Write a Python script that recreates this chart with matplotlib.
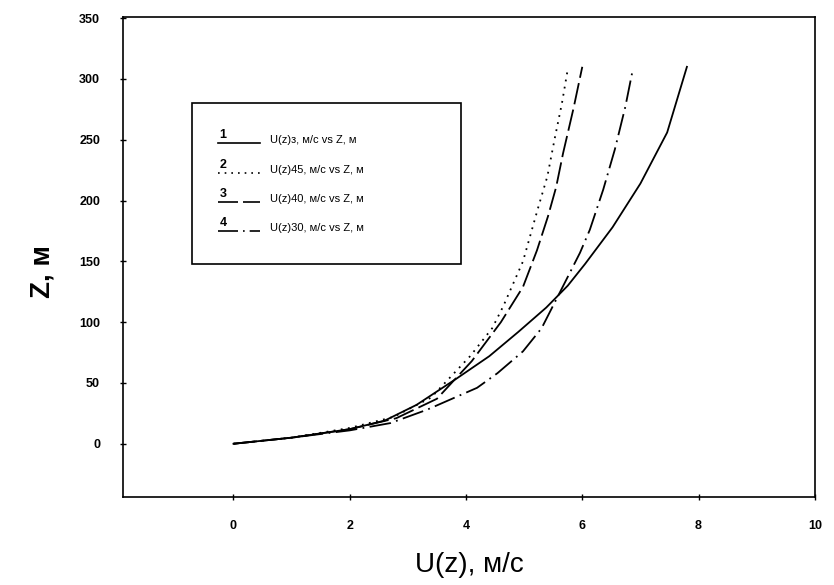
import numpy as np
import matplotlib
matplotlib.use("Agg")
import matplotlib.pyplot as plt
from matplotlib.patches import Rectangle
from matplotlib.lines import Line2D

# curve 1: U(z)з (solid)
u1 = [0, 1.0, 2.0, 2.6, 3.15, 3.85, 4.4, 4.9, 5.38, 5.75, 6.05, 6.52, 7.0, 7.46, 7.8]
z1 = [0, 5, 12, 19, 32, 54, 72, 92, 112, 130, 148, 178, 214, 256, 310]

# curve 2: U(z)45 (dotted)
u2 = [0, 1.0, 2.0, 2.75, 3.4, 4.07, 4.45, 4.64, 4.98, 5.24, 5.4, 5.53, 5.65, 5.75]
z2 = [0, 5, 13, 22, 38, 72, 95, 113, 150, 194, 220, 252, 280, 308]

# curve 3: U(z)40 (dashed)
u3 = [0, 1.0, 2.0, 2.8, 3.5, 4.1, 4.6, 4.98, 5.22, 5.41, 5.55, 5.67, 5.85, 6.0]
z3 = [0, 5, 12, 21, 37, 68, 100, 129, 159, 187, 211, 239, 276, 310]

# curve 4: U(z)30 (dash-dot)
u4 = [0, 1.0, 2.0, 2.7, 3.33, 4.19, 4.54, 4.98, 5.3, 5.62, 5.96, 6.13, 6.36, 6.56, 6.74, 6.87]
z4 = [0, 5, 11, 17, 28, 46, 58, 76, 95, 125, 157, 176, 209, 242, 277, 308]

labels = ["U(z)з, м/с vs Z, м", "U(z)45, м/с vs Z, м",
          "U(z)40, м/с vs Z, м", "U(z)30, м/с vs Z, м"]
numbers = ["1", "2", "3", "4"]
styles = ["-", (0, (1, 3)), (0, (12, 3)), (0, (12, 3, 1, 3))]

plt.rcParams['font.family'] = ['Liberation Sans', 'DejaVu Sans']

fig = plt.figure(figsize=(8.34, 5.85), dpi=100)
ax = fig.add_axes([0.1475, 0.150, 0.8295, 0.821])

for u, z, ls in zip([u1, u2, u3, u4], [z1, z2, z3, z4], styles):
    ax.plot(u, z, color="black", linestyle=ls, linewidth=1.3)

ax.set_xlim(-1.9, 10)
ax.set_ylim(-44, 351)
ax.set_xticks([0, 2, 4, 6, 8, 10])
ax.set_yticks([0, 50, 100, 150, 200, 250, 300, 350])
ax.tick_params(direction="inout", length=5, width=1, pad=14, labelsize=9)
for lab in ax.get_xticklabels() + ax.get_yticklabels():
    lab.set_fontweight("bold")
for s in ax.spines.values():
    s.set_linewidth(1.2)

ax.set_xlabel("U(z), м/с", fontsize=20)
ax.xaxis.label.set_va("center")
ax.xaxis.set_label_coords(0.5, -0.142)
ax.set_ylabel("Z, м", fontsize=20, fontweight="bold")
ax.yaxis.label.set_va("center")
ax.yaxis.set_label_coords(-0.117, 0.47)

# hand-made legend box with numbered samples
x0, y0 = (192 - 123) / 692, 1 - (264 - 17) / 480
w, h = (461 - 192) / 692, (264 - 103) / 480
ax.add_patch(Rectangle((x0, y0), w, h, transform=ax.transAxes,
                       facecolor="white", edgecolor="black", linewidth=1.2, zorder=5))
rows = [140, 170, 199, 228]
for num, lab, ls, ry in zip(numbers, labels, styles, rows):
    yy = 1 - (ry + 3 - 17) / 480
    ax.add_line(Line2D([(218 - 123) / 692, (260 - 123) / 692], [yy, yy],
                       transform=ax.transAxes, color="black", linestyle=ls,
                       linewidth=1.2, zorder=6))
    ax.text((223 - 123) / 692, yy + 0.004, num, transform=ax.transAxes,
            fontsize=9, fontweight="bold", ha="center", va="bottom", zorder=6)
    ax.text((270 - 123) / 692, 1 - (ry - 17) / 480, lab, transform=ax.transAxes,
            fontsize=8, ha="left", va="center", zorder=6)

fig.savefig("out.png", dpi=100)
